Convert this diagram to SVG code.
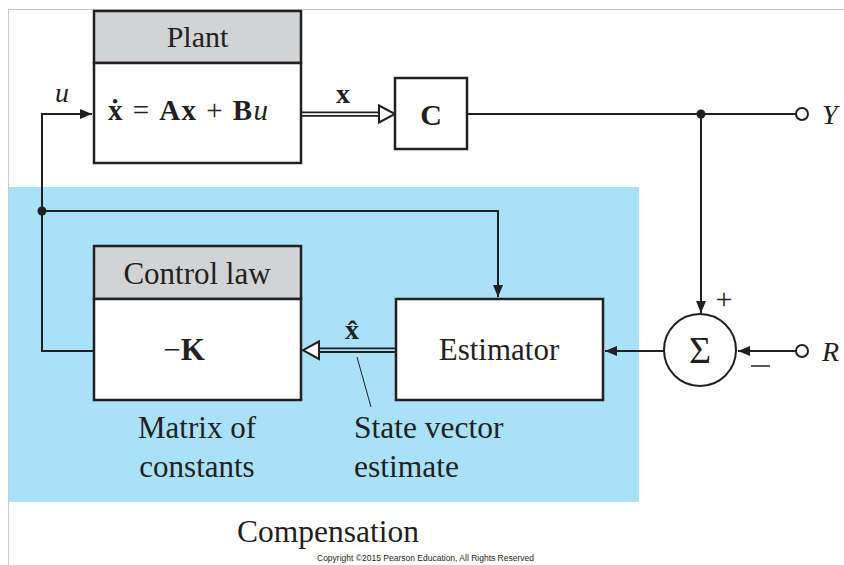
<svg xmlns="http://www.w3.org/2000/svg" width="844" height="565" viewBox="0 0 844 565">
<defs>
<style>
.ln{stroke:#231f20;stroke-width:2;fill:none}
.box{stroke:#231f20;stroke-width:2.5;fill:#ffffff}
.hdr{stroke:#231f20;stroke-width:2.5;fill:#d1d3d4}
.t{font-family:"Liberation Serif","Times New Roman",serif;fill:#231f20}
.b{font-weight:bold}
.i{font-style:italic}
</style>
<marker id="ah" viewBox="0 0 12 10" refX="12" refY="5" markerWidth="12" markerHeight="10" markerUnits="userSpaceOnUse" orient="auto">
<path d="M0,0 L12,5 L0,10 Z" fill="#231f20"/>
</marker>
</defs>
<rect x="0" y="0" width="844" height="565" fill="#ffffff"/>
<line x1="8" y1="9.5" x2="844" y2="9.5" stroke="#cccccc" stroke-width="1"/>
<line x1="8.5" y1="9" x2="8.5" y2="565" stroke="#cccccc" stroke-width="1"/>
<rect id="compensation-area" x="9" y="187" width="630" height="315" fill="#a9e1f9"/>

<g id="connectors">
<path class="ln" d="M42,211 V114 H92" marker-end="url(#ah)"/>
<path class="ln" d="M94,351 H42 V211"/>
<path class="ln" d="M42,211 H498 V297" marker-end="url(#ah)"/>
<path class="ln" d="M467,114 H796"/>
<path class="ln" d="M701,114 V313" marker-end="url(#ah)"/>
<path class="ln" d="M796,351 H738" marker-end="url(#ah)"/>
<path class="ln" d="M665,351 H605" marker-end="url(#ah)"/>
<circle cx="701" cy="114" r="4.5" fill="#231f20"/>
<circle cx="42" cy="211" r="4.5" fill="#231f20"/>
<line x1="301" y1="112.3" x2="381" y2="112.3" stroke="#231f20" stroke-width="1.8"/>
<line x1="301" y1="115.9" x2="381" y2="115.9" stroke="#231f20" stroke-width="1.8"/>
<path d="M379,105.5 L395,114 L379,122.5 Z" fill="#ffffff" stroke="#231f20" stroke-width="2"/>
<line x1="317" y1="348.3" x2="396" y2="348.3" stroke="#231f20" stroke-width="1.8"/>
<line x1="317" y1="352" x2="396" y2="352" stroke="#231f20" stroke-width="1.8"/>
<path d="M319,341.5 L303,350.2 L319,359 Z" fill="#ffffff" stroke="#231f20" stroke-width="2"/>
<line x1="357" y1="357" x2="371" y2="407" stroke="#231f20" stroke-width="1"/>
</g>

<g id="plant">
<rect class="hdr" x="94" y="11" width="207" height="52"/>
<rect class="box" x="94" y="63" width="207" height="100"/>
<text class="t" x="197.5" y="47" font-size="30" text-anchor="middle">Plant</text>
<text class="t" x="108" y="120" font-size="29" textLength="160" lengthAdjust="spacing"><tspan class="b">ẋ</tspan><tspan> = </tspan><tspan class="b">Ax</tspan><tspan> + </tspan><tspan class="b">B</tspan><tspan class="i">u</tspan></text>
</g>

<g id="label-u"><text class="t i" x="55" y="102" font-size="28">u</text></g>
<g id="label-x"><text class="t b" x="343" y="103" font-size="28" text-anchor="middle">x</text></g>

<g id="c-block">
<rect class="box" x="395" y="78" width="72" height="71"/>
<text class="t b" x="431" y="125" font-size="30" text-anchor="middle">C</text>
</g>

<g id="output-y">
<circle cx="802" cy="114" r="6" fill="#ffffff" stroke="#231f20" stroke-width="2"/>
<text class="t i" x="822" y="124" font-size="28">Y</text>
</g>

<g id="input-r">
<circle cx="802" cy="351" r="6" fill="#ffffff" stroke="#231f20" stroke-width="2"/>
<text class="t i" x="822" y="361" font-size="28">R</text>
</g>

<g id="sum">
<circle cx="700" cy="350" r="36" fill="#ffffff" stroke="#231f20" stroke-width="2"/>
<text class="t" x="700" y="363" font-size="38" text-anchor="middle">Σ</text>
<text class="t" x="724" y="309" font-size="30" text-anchor="middle">+</text>
<line x1="751" y1="366" x2="770" y2="366" stroke="#231f20" stroke-width="1.5"/>
</g>

<g id="control-law">
<rect class="hdr" x="94" y="246" width="207" height="53"/>
<rect class="box" x="94" y="299" width="207" height="101"/>
<text class="t" x="197" y="284" font-size="31" text-anchor="middle">Control law</text>
<text class="t" x="184" y="360" font-size="31" text-anchor="middle">−<tspan class="b">K</tspan></text>
</g>

<g id="estimator">
<rect class="box" x="396" y="299" width="207" height="101"/>
<text class="t" x="499" y="360" font-size="31" text-anchor="middle">Estimator</text>
</g>

<g id="label-xhat">
<text class="t b" x="352" y="339" font-size="28" text-anchor="middle">x̂</text>
</g>

<g id="notes">
<text class="t" x="197" y="438" font-size="31" text-anchor="middle">Matrix of</text>
<text class="t" x="197" y="477" font-size="31" text-anchor="middle">constants</text>
<text class="t" x="354" y="438" font-size="31.5">State vector</text>
<text class="t" x="354" y="477" font-size="31.5">estimate</text>
<text class="t" x="328" y="542" font-size="31.5" text-anchor="middle">Compensation</text>
<text x="425.5" y="561" font-size="8.5" text-anchor="middle" font-family="'Liberation Sans',Arial,sans-serif" fill="#231f20">Copyright ©2015 Pearson Education, All Rights Reserved</text>
</g>
</svg>
